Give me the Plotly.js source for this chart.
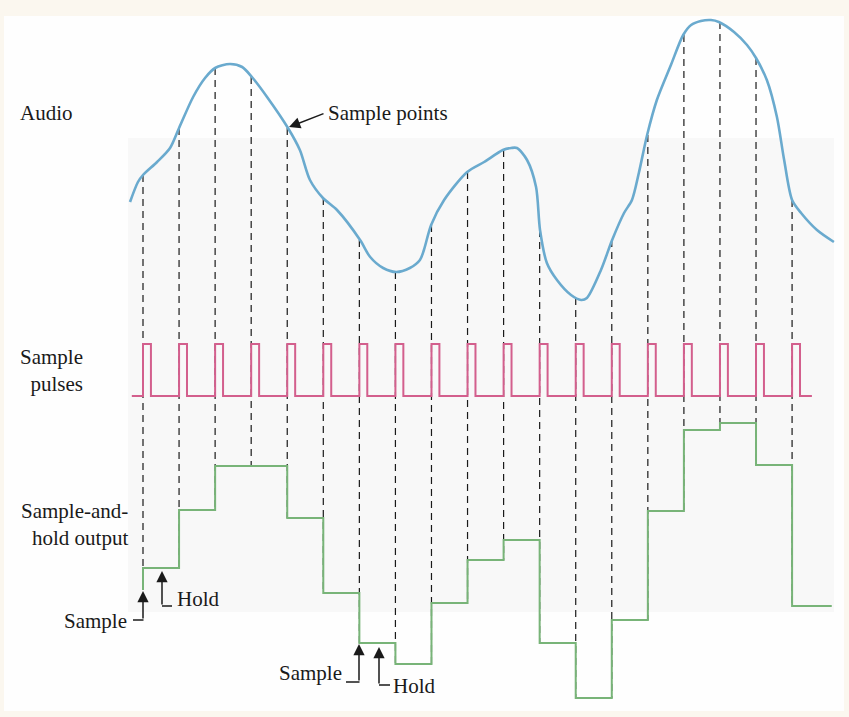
<!DOCTYPE html>
<html>
<head>
<meta charset="utf-8">
<script src="https://cdn.plot.ly/plotly-3.0.1.min.js"></script>
<style>html,body{margin:0;padding:0;background:#fbf7ef;}#chart{width:849px;height:717px;}</style>
</head>
<body>
<div id="chart"></div>
<script>
// ---- Data (time in sample periods, amplitude in arbitrary units) ----
const sampleT = [0,1,2,3,4,5,6,7,8,9,10,11,12,13,14,15,16,17,18];
const audioAtSample = [54.2,58.9,64.9,64.0,58.9,51.9,47.7,44.5,49.2,54.5,56.7,48.7,41.9,47.7,58.2,68.2,69.5,65.9,51.7];
const holdLevels = [14.9,20.7,25.1,25.1,19.9,12.4,7.4,5.3,11.4,15.7,17.7,7.4,1.9,9.7,20.6,28.7,29.4,25.2,11.1];
const holdInitial = 12.7;
const holdEndT = 19.1;

const audioT = [-0.36,-0.14,0,0.39,0.75,1.0,1.39,1.72,2.0,2.41,2.75,3.02,3.44,4.02,4.35,4.63,4.99,5.38,6.02,6.30,6.66,7.02,7.40,7.68,7.79,7.99,8.35,8.99,9.46,9.98,10.21,10.37,10.65,10.90,11.01,11.20,11.48,11.87,12.15,12.31,12.70,13.01,13.34,13.56,13.75,13.98,14.25,14.64,14.98,15.20,15.47,15.75,15.97,16.39,16.75,17.0,17.30,17.58,17.78,18.0,18.25,18.69,19.16];
const audioV = [51.5,53.5,54.2,55.5,56.9,58.9,62.0,63.9,64.9,65.3,65.0,64.0,62.0,58.9,56.7,53.7,51.9,50.7,47.7,46.0,44.9,44.5,44.9,45.7,46.7,49.2,51.7,54.5,55.5,56.7,56.9,56.9,55.7,53.0,48.7,45.4,43.7,42.2,41.7,41.9,44.7,47.7,50.4,51.7,54.4,58.2,61.7,65.2,68.2,69.2,69.6,69.7,69.5,68.5,67.2,65.9,63.7,60.0,55.7,51.7,50.4,48.7,47.5];

const pulseHigh = 37.3;
const pulseLow = 32.1;
const pulseWidth = 0.22;
const pulseStartT = -0.31;
const pulseEndT = 18.55;

const labels = ["Audio", "Sample points", "Sample<br>pulses", "Sample-and-<br>hold output", "Sample", "Hold"];

// ---- Build traces ----
const dashX = [], dashY = [];
for (let i = 0; i < sampleT.length; i++) {
  const prev = i === 0 ? holdInitial : holdLevels[i-1];
  dashX.push(sampleT[i], sampleT[i], null);
  dashY.push(audioAtSample[i], Math.min(prev, holdLevels[i]), null);
}

const pX = [pulseStartT], pY = [pulseLow];
for (const t of sampleT) {
  pX.push(t, t, t + pulseWidth, t + pulseWidth);
  pY.push(pulseLow, pulseHigh, pulseHigh, pulseLow);
}
pX.push(pulseEndT); pY.push(pulseLow);

const hX = [0].concat(sampleT, [holdEndT]);
const hY = [holdInitial].concat(holdLevels, [holdLevels[holdLevels.length-1]]);

const traces = [
  {x: dashX, y: dashY, mode: 'lines', line: {color: '#1a1a1a', width: 1.2, dash: '7px,5px'}, hoverinfo: 'skip'},
  {x: pX, y: pY, mode: 'lines', line: {color: '#d35f8d', width: 2}, hoverinfo: 'skip'},
  {x: hX, y: hY, mode: 'lines', line: {color: '#78b478', width: 2, shape: 'hv'}, hoverinfo: 'skip'},
  {x: audioT, y: audioV, mode: 'lines', line: {color: '#6aaace', width: 2.6, shape: 'spline', smoothing: 0.8}, hoverinfo: 'skip'}
];

// ---- Layout helpers (pixel -> paper) ----
const W = 849, H = 717;
const px = x => x / W;
const py = y => 1 - y / H;
const font = {family: '"Liberation Serif", "Times New Roman", serif', size: 21, color: '#1a1a1a'};

function txt(text, x, y, xanchor, align) {
  return {text: text, x: px(x), y: py(y), xref: 'paper', yref: 'paper', xanchor: xanchor, yanchor: 'middle',
          align: align || 'left', showarrow: false, font: font, borderpad: 0};
}
function arrow(tipX, tipY, ax, ay) {
  return {text: '', x: px(tipX), y: py(tipY), xref: 'paper', yref: 'paper', ax: ax, ay: ay,
          showarrow: true, arrowhead: 2, arrowsize: 1.5, arrowwidth: 1.5, arrowcolor: '#1a1a1a', standoff: 0, startstandoff: 0};
}
function seg(x0, y0, x1, y1) {
  return {type: 'line', xref: 'paper', yref: 'paper', x0: px(x0), y0: py(y0), x1: px(x1), y1: py(y1),
          line: {color: '#1a1a1a', width: 1.5}};
}

const annotations = [
  txt(labels[0], 19, 113, 'left'),
  txt(labels[1], 327, 113, 'left'),
  arrow(289, 127, 36, -14),
  txt(labels[2], 84, 370, 'right', 'right'),
  txt(labels[3], 129, 524, 'right', 'right'),
  txt(labels[4], 128, 621, 'right'),
  arrow(143, 591, 0, 29),
  txt(labels[5], 176, 599, 'left'),
  arrow(162, 571, 0, 35),
  txt(labels[4], 343, 673, 'right'),
  arrow(359, 644, 0, 38),
  txt(labels[5], 392, 686, 'left'),
  arrow(379, 647, 0, 38)
];

const shapes = [
  {type: 'rect', xref: 'paper', yref: 'paper', x0: px(4), x1: px(844), y0: py(711), y1: py(16), fillcolor: '#fefefe', line: {width: 0}, layer: 'below'},
  {type: 'rect', xref: 'paper', yref: 'paper', x0: px(128), x1: px(834), y0: py(612), y1: py(138), fillcolor: '#f8f8f8', line: {width: 0}, layer: 'below'},
  seg(133, 620, 143.5, 620),
  seg(162, 606, 172, 606),
  seg(346, 682, 359.5, 682),
  seg(379, 685, 390, 685)
];

const layout = {
  width: W, height: H,
  margin: {l: 0, r: 0, t: 0, b: 0, pad: 0},
  paper_bgcolor: '#fbf7ef',
  plot_bgcolor: 'rgba(0,0,0,0)',
  showlegend: false,
  xaxis: {range: [-143/36.06, (849-143)/36.06], visible: false, fixedrange: true},
  yaxis: {range: [0, 71.7], visible: false, fixedrange: true},
  annotations: annotations,
  shapes: shapes
};

Plotly.newPlot('chart', traces, layout, {staticPlot: true, displayModeBar: false});
</script>
</body>
</html>
